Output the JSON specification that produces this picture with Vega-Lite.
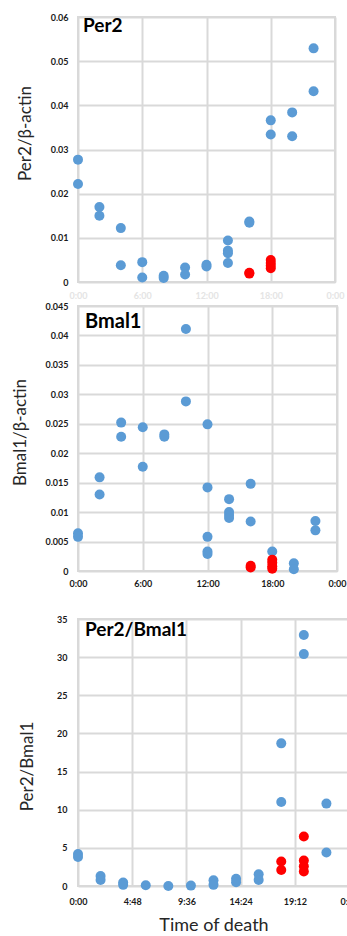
{
  "$schema": "https://vega.github.io/schema/vega-lite/v6.json",
  "padding": {"left": 10, "top": 12, "right": 0, "bottom": 0},
  "background": "white",
  "columns": 1,
  "align": "none",
  "spacing": {"row": 0, "column": 0},
  "config": {
    "font": "Lato",
    "view": {"stroke": "#d9d9d9", "strokeWidth": 2},
    "title": {"anchor": "start", "frame": "group", "font": "Lato", "fontWeight": "bold", "color": "#000000", "baseline": "top", "offset": 0},
    "axis": {
      "grid": true, "gridColor": "#d9d9d9", "gridWidth": 2, "labelOverlap": false, "labelFlush": false,
      "domain": false, "ticks": false, "tickSize": 0,
      "labelFont": "Lato", "labelFontWeight": "bold", "labelFontSize": 9, "labelColor": "#1a1a1a",
      "titleFont": "Lato", "titleFontWeight": "normal", "titleFontSize": 17, "titleColor": "#262626"
    }
  },
  "datasets": {
    "per2": [
      {"hour": 0, "value": 0.0277, "group": "A"}, {"hour": 0, "value": 0.0222, "group": "A"},
      {"hour": 2, "value": 0.0170, "group": "A"}, {"hour": 2, "value": 0.0150, "group": "A"},
      {"hour": 4, "value": 0.0122, "group": "A"}, {"hour": 4, "value": 0.0038, "group": "A"},
      {"hour": 6, "value": 0.0045, "group": "A"}, {"hour": 6, "value": 0.0010, "group": "A"},
      {"hour": 8, "value": 0.0014, "group": "A"}, {"hour": 8, "value": 0.0009, "group": "A"},
      {"hour": 10, "value": 0.0033, "group": "A"}, {"hour": 10, "value": 0.0017, "group": "A"},
      {"hour": 12, "value": 0.0039, "group": "A"}, {"hour": 12, "value": 0.0035, "group": "A"},
      {"hour": 14, "value": 0.0094, "group": "A"}, {"hour": 14, "value": 0.0071, "group": "A"},
      {"hour": 14, "value": 0.0065, "group": "A"}, {"hour": 14, "value": 0.0043, "group": "A"},
      {"hour": 16, "value": 0.0137, "group": "A"}, {"hour": 16, "value": 0.0134, "group": "A"},
      {"hour": 18, "value": 0.0366, "group": "A"}, {"hour": 18, "value": 0.0334, "group": "A"},
      {"hour": 20, "value": 0.0384, "group": "A"}, {"hour": 20, "value": 0.0330, "group": "A"},
      {"hour": 22, "value": 0.0529, "group": "A"}, {"hour": 22, "value": 0.0432, "group": "A"},
      {"hour": 16, "value": 0.0021, "group": "B"}, {"hour": 16, "value": 0.0019, "group": "B"},
      {"hour": 18, "value": 0.0050, "group": "B"}, {"hour": 18, "value": 0.0043, "group": "B"},
      {"hour": 18, "value": 0.0037, "group": "B"}, {"hour": 18, "value": 0.0031, "group": "B"}
    ],
    "bmal1": [
      {"hour": 0, "value": 0.0064, "group": "A"}, {"hour": 0, "value": 0.0058, "group": "A"},
      {"hour": 2, "value": 0.0159, "group": "A"}, {"hour": 2, "value": 0.0130, "group": "A"},
      {"hour": 4, "value": 0.0252, "group": "A"}, {"hour": 4, "value": 0.0228, "group": "A"},
      {"hour": 6, "value": 0.0244, "group": "A"}, {"hour": 6, "value": 0.0177, "group": "A"},
      {"hour": 8, "value": 0.0232, "group": "A"}, {"hour": 8, "value": 0.0228, "group": "A"},
      {"hour": 10, "value": 0.0411, "group": "A"}, {"hour": 10, "value": 0.0288, "group": "A"},
      {"hour": 12, "value": 0.0249, "group": "A"}, {"hour": 12, "value": 0.0142, "group": "A"},
      {"hour": 12, "value": 0.0058, "group": "A"}, {"hour": 12, "value": 0.0033, "group": "A"},
      {"hour": 12, "value": 0.0029, "group": "A"},
      {"hour": 14, "value": 0.0122, "group": "A"}, {"hour": 14, "value": 0.0100, "group": "A"},
      {"hour": 14, "value": 0.0095, "group": "A"}, {"hour": 14, "value": 0.0090, "group": "A"},
      {"hour": 16, "value": 0.0148, "group": "A"}, {"hour": 16, "value": 0.0084, "group": "A"},
      {"hour": 18, "value": 0.0033, "group": "A"},
      {"hour": 20, "value": 0.0013, "group": "A"}, {"hour": 20, "value": 0.0003, "group": "A"},
      {"hour": 22, "value": 0.0085, "group": "A"}, {"hour": 22, "value": 0.0069, "group": "A"},
      {"hour": 16, "value": 0.0009, "group": "B"}, {"hour": 16, "value": 0.0006, "group": "B"},
      {"hour": 18, "value": 0.0019, "group": "B"}, {"hour": 18, "value": 0.0014, "group": "B"},
      {"hour": 18, "value": 0.0008, "group": "B"}, {"hour": 18, "value": 0.0004, "group": "B"}
    ],
    "ratio": [
      {"hour": 0, "value": 4.2, "group": "A"}, {"hour": 0, "value": 3.8, "group": "A"},
      {"hour": 2, "value": 1.3, "group": "A"}, {"hour": 2, "value": 0.8, "group": "A"},
      {"hour": 4, "value": 0.45, "group": "A"}, {"hour": 4, "value": 0.15, "group": "A"},
      {"hour": 6, "value": 0.1, "group": "A"},
      {"hour": 8, "value": 0.0, "group": "A"},
      {"hour": 10, "value": 0.05, "group": "A"},
      {"hour": 12, "value": 0.75, "group": "A"}, {"hour": 12, "value": 0.15, "group": "A"},
      {"hour": 14, "value": 0.95, "group": "A"}, {"hour": 14, "value": 0.5, "group": "A"},
      {"hour": 16, "value": 1.55, "group": "A"}, {"hour": 16, "value": 0.8, "group": "A"},
      {"hour": 18, "value": 18.7, "group": "A"}, {"hour": 18, "value": 11.0, "group": "A"},
      {"hour": 20, "value": 32.9, "group": "A"}, {"hour": 20, "value": 30.4, "group": "A"},
      {"hour": 22, "value": 10.8, "group": "A"}, {"hour": 22, "value": 4.4, "group": "A"},
      {"hour": 18, "value": 3.2, "group": "B"}, {"hour": 18, "value": 2.1, "group": "B"},
      {"hour": 20, "value": 6.5, "group": "B"}, {"hour": 20, "value": 3.35, "group": "B"},
      {"hour": 20, "value": 2.6, "group": "B"}, {"hour": 20, "value": 1.9, "group": "B"}
    ]
  },
  "concat": [
    {
      "width": 257, "height": 265,
      "title": {"text": "Per2", "fontSize": 19, "dx": 5, "dy": 27},
      "data": {"name": "per2"},
      "mark": {"type": "point", "filled": true, "size": 100, "opacity": 1},
      "encoding": {
        "x": {"field": "hour", "type": "quantitative", "scale": {"domain": [0, 24], "nice": false, "zero": false},
          "axis": {"values": [0, 6, 12, 18, 24], "title": null, "labelColor": "#e4e4e4", "labelPadding": 9,
            "labelExpr": "datum.value >= 24 ? '0:00' : floor(datum.value) + ':' + (round((datum.value - floor(datum.value)) * 60) < 10 ? '0' : '') + round((datum.value - floor(datum.value)) * 60)"}},
        "y": {"field": "value", "type": "quantitative", "scale": {"domain": [0, 0.06], "nice": false},
          "axis": {"values": [0, 0.01, 0.02, 0.03, 0.04, 0.05, 0.06], "format": "~g", "title": "Per2/β-actin", "titleX": -44, "titleY": 116, "labelPadding": 10, "minExtent": 66}},
        "color": {"field": "group", "type": "nominal", "scale": {"domain": ["A", "B"], "range": ["#5B9BD5", "#FF0000"]}, "legend": null}
      }
    },
    {
      "width": 259, "height": 265,
      "title": {"text": "Bmal1", "fontSize": 20, "dx": 7, "dy": 34},
      "data": {"name": "bmal1"},
      "mark": {"type": "point", "filled": true, "size": 100, "opacity": 1},
      "encoding": {
        "x": {"field": "hour", "type": "quantitative", "scale": {"domain": [0, 24], "nice": false, "zero": false},
          "axis": {"values": [0, 6, 12, 18, 24], "title": null, "labelPadding": 8, "minExtent": 42,
            "labelExpr": "datum.value >= 24 ? '0:00' : floor(datum.value) + ':' + (round((datum.value - floor(datum.value)) * 60) < 10 ? '0' : '') + round((datum.value - floor(datum.value)) * 60)"}},
        "y": {"field": "value", "type": "quantitative", "scale": {"domain": [0, 0.045], "nice": false},
          "axis": {"values": [0, 0.005, 0.01, 0.015, 0.02, 0.025, 0.03, 0.035, 0.04, 0.045], "format": "~g", "title": "Bmal1/β-actin", "titleX": -49, "titleY": 126, "labelPadding": 10}},
        "color": {"field": "group", "type": "nominal", "scale": {"domain": ["A", "B"], "range": ["#5B9BD5", "#FF0000"]}, "legend": null}
      }
    },
    {
      "width": 271, "height": 267,
      "title": {"text": "Per2/Bmal1", "fontSize": 19, "dx": 7, "dy": 29},
      "data": {"name": "ratio"},
      "mark": {"type": "point", "filled": true, "size": 100, "opacity": 1},
      "encoding": {
        "x": {"field": "hour", "type": "quantitative", "scale": {"domain": [0, 24], "nice": false, "zero": false},
          "axis": {"values": [0, 4.8, 9.6, 14.4, 19.2, 24], "title": "Time of death", "titleFontSize": 18, "titlePadding": 10, "labelPadding": 11,
            "labelExpr": "datum.value >= 24 ? '0:00' : floor(datum.value) + ':' + (round((datum.value - floor(datum.value)) * 60) < 10 ? '0' : '') + round((datum.value - floor(datum.value)) * 60)"}},
        "y": {"field": "value", "type": "quantitative", "scale": {"domain": [0, 35], "nice": false},
          "axis": {"values": [0, 5, 10, 15, 20, 25, 30, 35], "title": "Per2/Bmal1", "titleX": -42, "titleY": 147, "labelPadding": 11}},
        "color": {"field": "group", "type": "nominal", "scale": {"domain": ["A", "B"], "range": ["#5B9BD5", "#FF0000"]}, "legend": null}
      }
    }
  ]
}
